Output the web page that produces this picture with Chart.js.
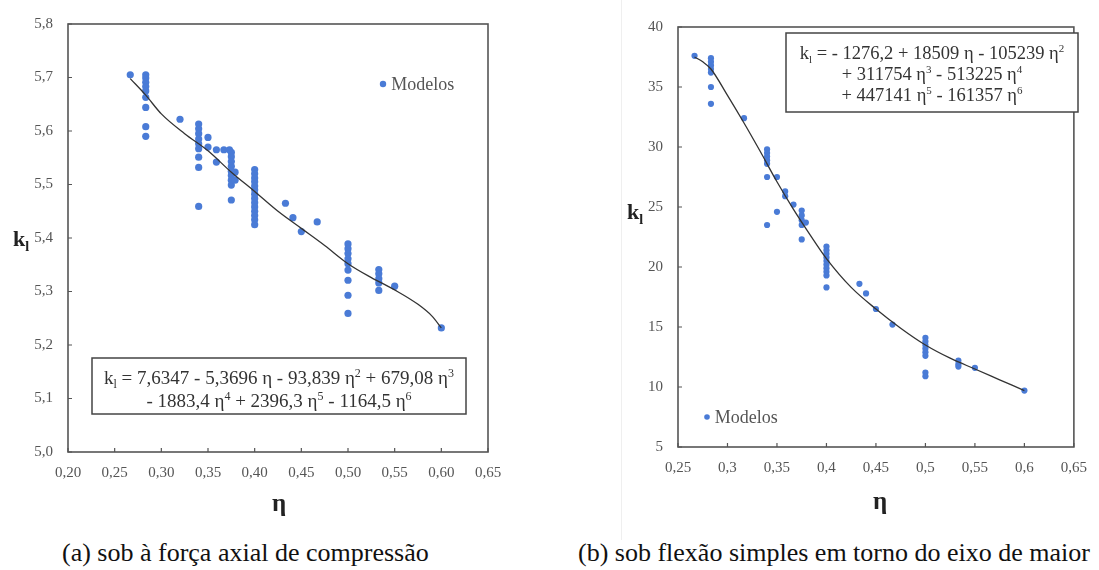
<!DOCTYPE html>
<html>
<head>
<meta charset="utf-8">
<script src="https://cdn.jsdelivr.net/npm/chart.js@4.4.1/dist/chart.umd.min.js"></script>
<style>
  html, body { margin: 0; padding: 0; background: #ffffff; }
  body { width: 1099px; height: 570px; position: relative; overflow: hidden; font-family: 'Liberation Serif', serif; }
  canvas { position: absolute; top: 0; }
  #cA { left: 0; }
  #cB { left: 560px; }
  #sep { position: absolute; left: 621px; top: 0; width: 1px; height: 540px; background: #efefef; }
  .cap { position: absolute; top: 538px; font-family: 'Liberation Serif', serif; font-size: 26px; line-height: 30px; color: #111; white-space: nowrap; }
</style>
</head>
<body>
<div id="sep"></div>
<canvas id="cA" width="545" height="530" style="width:545px;height:530px"></canvas>
<canvas id="cB" width="539" height="530" style="width:539px;height:530px"></canvas>
<div class="cap" style="left:62px">(a) sob à força axial de compressão</div>
<div class="cap" style="left:578px">(b) sob flexão simples em torno do eixo de maior</div>
<script>
// ---------- Chart (a): k_l under axial compression ----------
const etaA = [
  0.2667,
  0.2833, 0.2833, 0.2833, 0.2833, 0.2833, 0.2833, 0.2833, 0.2833, 0.2833,
  0.32,
  0.34, 0.34, 0.34, 0.34, 0.34, 0.34, 0.34, 0.34, 0.34,
  0.35, 0.35,
  0.359, 0.359, 0.367, 0.373,
  0.375, 0.375, 0.375, 0.375, 0.375, 0.375, 0.375, 0.375, 0.375,
  0.379, 0.379,
  0.40, 0.40, 0.40, 0.40, 0.40, 0.40, 0.40, 0.40, 0.40, 0.40, 0.40, 0.40, 0.40, 0.40,
  0.433, 0.441, 0.45, 0.467,
  0.50, 0.50, 0.50, 0.50, 0.50, 0.50, 0.50, 0.50, 0.50,
  0.533, 0.533, 0.533, 0.533, 0.533,
  0.55,
  0.60
];
const kA = [
  5.705,
  5.705, 5.699, 5.691, 5.683, 5.675, 5.663, 5.644, 5.608, 5.590,
  5.622,
  5.613, 5.604, 5.595, 5.585, 5.576, 5.567, 5.551, 5.532, 5.459,
  5.588, 5.570,
  5.565, 5.542, 5.565, 5.565,
  5.560, 5.552, 5.543, 5.534, 5.525, 5.517, 5.508, 5.499, 5.471,
  5.523, 5.508,
  5.528, 5.520, 5.512, 5.505, 5.497, 5.490, 5.482, 5.474, 5.466, 5.458, 5.450, 5.442, 5.434, 5.425,
  5.465, 5.438, 5.412, 5.430,
  5.389, 5.380, 5.371, 5.361, 5.352, 5.340, 5.321, 5.293, 5.259,
  5.341, 5.333, 5.324, 5.316, 5.302,
  5.310,
  5.232
];
const curveEtaA = [0.2667, 0.2833, 0.30, 0.325, 0.35, 0.375, 0.40, 0.425, 0.45, 0.475, 0.50, 0.525, 0.55, 0.575, 0.59, 0.60];
const curveKA   = [5.698, 5.667, 5.632, 5.595, 5.563, 5.523, 5.487, 5.450, 5.418, 5.386, 5.352, 5.326, 5.303, 5.276, 5.254, 5.232];
const xTicksA = ['0,20','0,25','0,30','0,35','0,40','0,45','0,50','0,55','0,60','0,65'];
const yTicksA = ['5,0','5,1','5,2','5,3','5,4','5,5','5,6','5,7','5,8'];

// ---------- Chart (b): k_l under simple bending ----------
const etaB = [
  0.2667,
  0.2833, 0.2833, 0.2833, 0.2833, 0.2833, 0.2833, 0.2833,
  0.3167,
  0.34, 0.34, 0.34, 0.34, 0.34, 0.34, 0.34,
  0.35, 0.35,
  0.3583, 0.3583,
  0.3667,
  0.375, 0.375, 0.375, 0.375, 0.375,
  0.3792,
  0.40, 0.40, 0.40, 0.40, 0.40, 0.40, 0.40, 0.40, 0.40, 0.40,
  0.4333, 0.44, 0.45, 0.4667,
  0.50, 0.50, 0.50, 0.50, 0.50, 0.50, 0.50, 0.50,
  0.5333, 0.5333, 0.5333,
  0.55,
  0.60
];
const kB = [
  37.6,
  37.4, 37.1, 36.8, 36.5, 36.2, 35.0, 33.6,
  32.4,
  29.8, 29.5, 29.2, 28.9, 28.6, 27.5, 23.5,
  27.5, 24.6,
  26.3, 25.9,
  25.2,
  24.7, 24.3, 23.9, 23.5, 22.3,
  23.7,
  21.7, 21.4, 21.1, 20.8, 20.5, 20.2, 19.9, 19.6, 19.3, 18.3,
  18.6, 17.8, 16.5, 15.2,
  14.1, 13.8, 13.5, 13.2, 12.9, 12.6, 11.2, 10.9,
  12.2, 11.9, 11.7,
  11.6,
  9.7
];
const curveEtaB = [0.2667, 0.275, 0.2833, 0.30, 0.3167, 0.3333, 0.35, 0.3667, 0.3833, 0.40, 0.425, 0.45, 0.475, 0.50, 0.525, 0.55, 0.575, 0.60];
const curveKB   = [37.5, 37.1, 36.5, 34.3, 32.0, 29.6, 27.1, 24.8, 22.7, 20.7, 18.3, 16.5, 14.9, 13.5, 12.4, 11.5, 10.6, 9.7];
const xTicksB = ['0,25','0,3','0,35','0,4','0,45','0,5','0,55','0,6','0,65'];
const yTicksB = ['5','10','15','20','25','30','35','40'];

const legendLabel = 'Modelos';
const eqA = ['k_l = 7,6347 - 5,3696 η - 93,839 η^2 + 679,08 η^3', '- 1883,4 η^4 + 2396,3 η^5 - 1164,5 η^6'];
const eqB = ['k_l = - 1276,2 + 18509 η - 105239 η^2', '+ 311754 η^3 - 513225 η^4', '+ 447141 η^5 - 161357 η^6'];

const SERIF = "'Liberation Serif', serif";
const DOT = '#4a7bd6';

// rich text: "_c" subscript char, "^c" superscript char
function richSegments(str) {
  const segs = [];
  let buf = '';
  for (let i = 0; i < str.length; i++) {
    const c = str[i];
    if ((c === '_' || c === '^') && i + 1 < str.length) {
      if (buf) { segs.push({t: buf, m: ''}); buf = ''; }
      segs.push({t: str[i + 1], m: c === '_' ? 'sub' : 'sup'});
      i++;
    } else buf += c;
  }
  if (buf) segs.push({t: buf, m: ''});
  return segs;
}
function drawRich(ctx, str, x, y, size, opts) {
  const weight = opts.bold ? 'bold ' : '';
  const segs = richSegments(str);
  const small = Math.round(size * 0.62);
  let total = 0;
  segs.forEach(s => {
    ctx.font = weight + (s.m ? small : size) + 'px ' + SERIF;
    s.w = ctx.measureText(s.t).width;
    total += s.w;
  });
  let cx = opts.align === 'center' ? x - total / 2 : x;
  ctx.textBaseline = 'alphabetic';
  ctx.textAlign = 'left';
  ctx.fillStyle = opts.color || '#333';
  segs.forEach(s => {
    ctx.font = weight + (s.m ? small : size) + 'px ' + SERIF;
    let dy = 0;
    if (s.m === 'sub') dy = size * 0.22;
    if (s.m === 'sup') dy = -size * 0.38;
    ctx.fillText(s.t, cx, y + dy);
    cx += s.w;
  });
}

const decorPlugin = {
  id: 'decor',
  afterDatasetsDraw(chart, args, o) {
    const ctx = chart.ctx;
    const ca = chart.chartArea;
    ctx.save();
    ctx.strokeStyle = '#555';
    ctx.lineWidth = 1.6;
    ctx.strokeRect(ca.left, ca.top, ca.right - ca.left, ca.bottom - ca.top);
    ctx.lineWidth = 1.2;
    const xs = chart.scales.x, ys = chart.scales.y;
    ctx.beginPath();
    xs.ticks.forEach(t => {
      const px = xs.getPixelForValue(t.value);
      ctx.moveTo(px, ca.bottom); ctx.lineTo(px, ca.bottom - 4);
    });
    ys.ticks.forEach(t => {
      const py = ys.getPixelForValue(t.value);
      ctx.moveTo(ca.left, py); ctx.lineTo(ca.left + 4, py);
    });
    ctx.stroke();
    const b = o.box;
    ctx.fillStyle = '#fff';
    ctx.fillRect(b.x1, b.y1, b.x2 - b.x1, b.y2 - b.y1);
    ctx.strokeStyle = '#444';
    ctx.lineWidth = 1.5;
    ctx.strokeRect(b.x1, b.y1, b.x2 - b.x1, b.y2 - b.y1);
    o.eq.forEach((line, i) => {
      drawRich(ctx, line, (b.x1 + b.x2) / 2, b.line0 + i * b.dy, b.size, {align: 'center', color: '#333'});
    });
    const L = o.legend;
    ctx.fillStyle = DOT;
    ctx.beginPath(); ctx.arc(L.x, L.y, L.r, 0, Math.PI * 2); ctx.fill();
    ctx.fillStyle = '#555';
    ctx.font = L.size + 'px ' + SERIF;
    ctx.textBaseline = 'middle';
    ctx.textAlign = 'left';
    ctx.fillText(legendLabel, L.x + L.r + 5, L.y + 1);
    drawRich(ctx, 'k_l', o.ky.x, o.ky.y, o.ky.size, {bold: true, color: '#222'});
    ctx.font = 'bold ' + o.kx.size + 'px ' + SERIF;
    ctx.fillStyle = '#222';
    ctx.textAlign = 'center';
    ctx.textBaseline = 'alphabetic';
    ctx.fillText('η', o.kx.x, o.kx.y);
    ctx.restore();
  }
};

function pts(xs, ys) { return xs.map((v, i) => ({x: v, y: ys[i]})); }

function makeChart(id, cfg) {
  return new Chart(document.getElementById(id), {
    type: 'scatter',
    data: {
      datasets: [
        {
          data: pts(cfg.cx, cfg.cy), showLine: true, pointRadius: 0,
          borderColor: '#333', borderWidth: 1.3, cubicInterpolationMode: 'monotone', fill: false
        },
        {
          data: pts(cfg.px, cfg.py), pointRadius: cfg.r, pointHoverRadius: cfg.r,
          backgroundColor: DOT, borderColor: DOT, borderWidth: 0
        }
      ]
    },
    options: {
      responsive: false, animation: false, devicePixelRatio: 1,
      layout: {padding: cfg.pad},
      plugins: {legend: {display: false}, tooltip: {enabled: false}, decor: cfg.decor},
      scales: {
        x: {
          type: 'linear', min: cfg.xmin, max: cfg.xmax,
          grid: {display: false, drawTicks: false}, border: {display: false},
          afterBuildTicks: s => { s.ticks = cfg.xt.map((l, i) => ({value: cfg.xmin + i * cfg.xstep})); },
          ticks: {
            autoSkip: false, maxRotation: 0, padding: 12, color: '#555',
            font: {family: SERIF, size: 15},
            callback: (v, i) => cfg.xt[i]
          },
          afterFit: s => { s.height = cfg.xh; }
        },
        y: {
          type: 'linear', min: cfg.ymin, max: cfg.ymax,
          grid: {display: false, drawTicks: false}, border: {display: false},
          afterBuildTicks: s => { s.ticks = cfg.yt.map((l, i) => ({value: cfg.ymin + i * cfg.ystep})); },
          ticks: {
            autoSkip: false, padding: 15, color: '#555',
            font: {family: SERIF, size: 15},
            callback: (v, i) => cfg.yt[i]
          },
          afterFit: s => { s.width = cfg.yw; }
        }
      }
    },
    plugins: [decorPlugin]
  });
}

function build() {
  const a = makeChart('cA', {
    px: etaA, py: kA, cx: curveEtaA, cy: curveKA, r: 3.6,
    xmin: 0.20, xmax: 0.65, xstep: 0.05, xt: xTicksA,
    ymin: 5.0, ymax: 5.8, ystep: 0.1, yt: yTicksA,
    pad: {top: 23, right: 57, left: 0, bottom: 0}, xh: 78, yw: 68,
    decor: {
      box: {x1: 92, y1: 358, x2: 466, y2: 414, line0: 384, dy: 23, size: 19},
      eq: eqA,
      legend: {x: 383, y: 84, r: 3.2, size: 18},
      ky: {x: 13, y: 246, size: 22},
      kx: {x: 279, y: 511, size: 25}
    }
  });
  const b = makeChart('cB', {
    px: etaB, py: kB, cx: curveEtaB, cy: curveKB, r: 3.1,
    xmin: 0.25, xmax: 0.65, xstep: 0.05, xt: xTicksB,
    ymin: 5, ymax: 40, ystep: 5, yt: yTicksB,
    pad: {top: 27, right: 15, left: 0, bottom: 0}, xh: 83, yw: 118,
    decor: {
      box: {x1: 226, y1: 33, x2: 518, y2: 112, line0: 59, dy: 21, size: 18.5},
      eq: eqB,
      legend: {x: 147, y: 417, r: 2.8, size: 18},
      ky: {x: 67, y: 219, size: 22},
      kx: {x: 320, y: 509, size: 25}
    }
  });
  return [a, b];
}

const charts = build();
if (document.fonts && document.fonts.load) {
  Promise.all([
    document.fonts.load("15px 'Liberation Serif'"),
    document.fonts.load("bold 22px 'Liberation Serif'")
  ]).then(() => charts.forEach(c => c.update('none'))).catch(() => {});
}
</script>
</body>
</html>
